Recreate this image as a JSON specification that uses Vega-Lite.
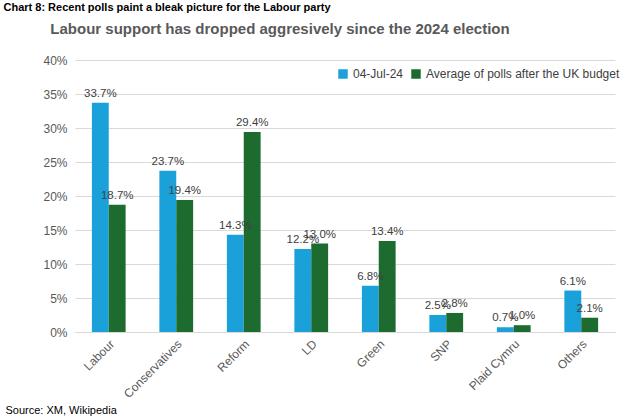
{
  "$schema": "https://vega.github.io/schema/vega-lite/v6.json",
  "autosize": {"type": "none"},
  "padding": {"left": 75, "top": 60, "right": 15, "bottom": 88},
  "width": 540,
  "height": 272,
  "title": {
    "text": "Labour support has dropped aggresively since the 2024 election",
    "anchor": "middle",
    "dx": -65,
    "offset": -36,
    "fontSize": 15,
    "font": "Liberation Sans",
    "fontWeight": "bold",
    "color": "#595959"
  },
  "data": {
    "values": [
      {"party": "Labour", "series": "04-Jul-24", "share": 0.337},
      {"party": "Labour", "series": "Average of polls after the UK budget", "share": 0.187},
      {"party": "Conservatives", "series": "04-Jul-24", "share": 0.237},
      {"party": "Conservatives", "series": "Average of polls after the UK budget", "share": 0.194},
      {"party": "Reform", "series": "04-Jul-24", "share": 0.143},
      {"party": "Reform", "series": "Average of polls after the UK budget", "share": 0.294},
      {"party": "LD", "series": "04-Jul-24", "share": 0.122},
      {"party": "LD", "series": "Average of polls after the UK budget", "share": 0.13},
      {"party": "Green", "series": "04-Jul-24", "share": 0.068},
      {"party": "Green", "series": "Average of polls after the UK budget", "share": 0.134},
      {"party": "SNP", "series": "04-Jul-24", "share": 0.025},
      {"party": "SNP", "series": "Average of polls after the UK budget", "share": 0.028},
      {"party": "Plaid Cymru", "series": "04-Jul-24", "share": 0.007},
      {"party": "Plaid Cymru", "series": "Average of polls after the UK budget", "share": 0.01},
      {"party": "Others", "series": "04-Jul-24", "share": 0.061},
      {"party": "Others", "series": "Average of polls after the UK budget", "share": 0.021}
    ]
  },
  "encoding": {
    "x": {
      "field": "party", "type": "nominal", "sort": null,
      "scale": {"paddingInner": 0.5, "paddingOuter": 0.25},
      "axis": {
        "title": "Source: XM, Wikipedia",
        "titleX": -70, "titleY": 78, "titleAlign": "left", "titleBaseline": "middle",
        "titleFontWeight": "normal", "titleFontSize": 11, "titleColor": "#000000",
        "labelAngle": -45, "labelAlign": "right", "labelFontSize": 12, "labelColor": "#595959",
        "domainColor": "#d9d9d9", "ticks": false, "labelPadding": 6
      }
    },
    "xOffset": {"field": "series", "type": "nominal"},
    "y": {
      "field": "share", "type": "quantitative",
      "scale": {"domain": [0, 0.4]},
      "axis": {
        "format": ".0%", "values": [0, 0.05, 0.1, 0.15, 0.2, 0.25, 0.3, 0.35, 0.4],
        "labelOverlap": false,
        "title": "Chart 8: Recent polls paint a bleak picture for the Labour party",
        "titleAngle": 0, "titleX": -72, "titleY": -53, "titleAlign": "left", "titleBaseline": "middle",
        "titleFontSize": 11, "titleFontWeight": "bold", "titleColor": "#000000",
        "labelFontSize": 12, "labelColor": "#595959", "domain": false, "ticks": false,
        "gridColor": "#d9d9d9", "labelPadding": 8
      }
    },
    "color": {
      "field": "series", "type": "nominal",
      "scale": {"range": ["#1ba1d9", "#1e6b30"]},
      "legend": {
        "title": null, "orient": "none", "legendX": 262, "legendY": 8,
        "direction": "horizontal", "symbolType": "square", "symbolSize": 90,
        "labelFontSize": 12, "labelColor": "#404040", "columnPadding": 6, "labelLimit": 0
      }
    }
  },
  "layer": [
    {"mark": {"type": "bar"}},
    {
      "mark": {"type": "text", "dy": -9, "fontSize": 11.5, "color": "#404040"},
      "encoding": {
        "text": {"field": "share", "type": "quantitative", "format": ".1%"},
        "color": {"value": "#404040"}
      }
    }
  ],
  "config": {"view": {"stroke": null}, "font": "Liberation Sans"}
}
